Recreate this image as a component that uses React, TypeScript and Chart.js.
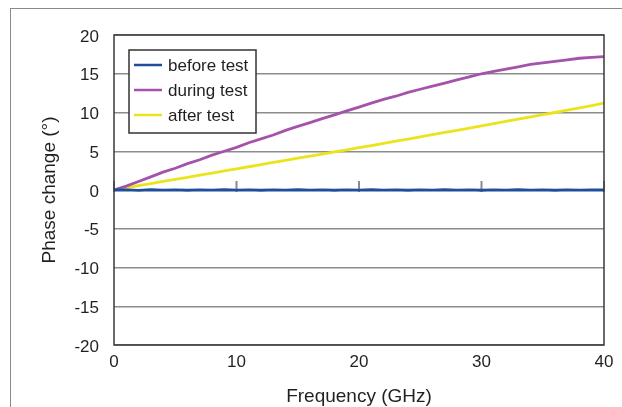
import React, { useEffect, useRef } from "react";
import { Chart, registerables } from "chart.js";

Chart.register(...registerables);

const freq = [
  0, 1, 2, 3, 4, 5, 6, 7, 8, 9, 10, 11, 12, 13, 14, 15, 16, 17, 18, 19, 20,
  21, 22, 23, 24, 25, 26, 27, 28, 29, 30, 31, 32, 33, 34, 35, 36, 37, 38, 39, 40,
];
const beforeTest = [
  0, 0.02, -0.04, 0.03, -0.02, 0.02, -0.03, 0.02, -0.02, 0.03, -0.02, 0.02,
  -0.03, 0.02, -0.02, 0.03, -0.02, 0.02, -0.03, 0.02, -0.02, 0.03, -0.02,
  0.02, -0.03, 0.02, -0.02, 0.03, -0.02, 0.02, -0.03, 0.02, -0.02, 0.03,
  -0.02, 0.02, -0.03, 0.02, -0.02, 0.02, 0.0,
];
const duringTest = [
  0, 0.5, 1.1, 1.7, 2.3, 2.8, 3.4, 3.9, 4.5, 5.0, 5.5, 6.1, 6.6, 7.1, 7.7,
  8.2, 8.7, 9.2, 9.7, 10.2, 10.7, 11.2, 11.7, 12.1, 12.6, 13.0, 13.4, 13.8,
  14.2, 14.6, 15.0, 15.3, 15.6, 15.9, 16.2, 16.4, 16.6, 16.8, 17.0, 17.1, 17.2,
];
const afterTest = [
  0, 0.27, 0.55, 0.82, 1.1, 1.37, 1.64, 1.92, 2.19, 2.46, 2.73, 3.0, 3.28,
  3.55, 3.82, 4.1, 4.37, 4.64, 4.92, 5.19, 5.46, 5.74, 6.02, 6.3, 6.58, 6.86,
  7.14, 7.42, 7.7, 7.98, 8.26, 8.55, 8.84, 9.13, 9.42, 9.71, 10.0, 10.3,
  10.6, 10.9, 11.2,
];
const seriesNames = ["before test", "during test", "after test"];
const seriesColors = ["#1f4f9c", "#a452aa", "#ece31c"];
const xTicks = [0, 10, 20, 30, 40];
const yTicks = [-20, -15, -10, -5, 0, 5, 10, 15, 20];

const FONT = "'Liberation Sans', Arial, Helvetica, sans-serif";
const TEXT = "#231f20";

const framePlugin = {
  id: "frameAndLegend",
  beforeDatasetsDraw(chart: any) {
    const { ctx } = chart;
    const xs = chart.scales.x;
    const ys = chart.scales.y;
    const y0 = ys.getPixelForValue(0);
    ctx.save();
    ctx.strokeStyle = "#8a8a8a";
    ctx.lineWidth = 2;
    xTicks.forEach((v) => {
      const x = xs.getPixelForValue(v);
      ctx.beginPath();
      ctx.moveTo(x, y0 - 9);
      ctx.lineTo(x, y0 + 2);
      ctx.stroke();
    });
    ctx.restore();
  },
  afterDatasetsDraw(chart: any) {
    const { ctx, chartArea } = chart;
    ctx.save();
    ctx.strokeStyle = "#3a3a3a";
    ctx.lineWidth = 1.5;
    ctx.strokeRect(
      chartArea.left,
      chartArea.top,
      chartArea.right - chartArea.left,
      chartArea.bottom - chartArea.top
    );
    const lx = chartArea.left + 15;
    const ly = chartArea.top + 15;
    ctx.fillStyle = "#ffffff";
    ctx.fillRect(lx, ly, 127, 83);
    ctx.strokeStyle = "#333333";
    ctx.lineWidth = 1.5;
    ctx.strokeRect(lx, ly, 127, 83);
    ctx.font = `17px ${FONT}`;
    ctx.textBaseline = "middle";
    ctx.textAlign = "left";
    seriesNames.forEach((name, i) => {
      const ry = ly + 15 + i * 25;
      ctx.strokeStyle = seriesColors[i];
      ctx.lineWidth = 2.5;
      ctx.beginPath();
      ctx.moveTo(lx + 5, ry);
      ctx.lineTo(lx + 33, ry);
      ctx.stroke();
      ctx.fillStyle = TEXT;
      ctx.fillText(name, lx + 39, ry + 1);
    });
    ctx.restore();
  },
};

export default function App() {
  const ref = useRef<HTMLCanvasElement | null>(null);

  useEffect(() => {
    if (!ref.current) return;
    const series = [beforeTest, duringTest, afterTest];
    const chart = new Chart(ref.current, {
      type: "line",
      data: {
        datasets: series.map((vals, i) => ({
          label: seriesNames[i],
          data: freq.map((f, j) => ({ x: f, y: vals[j] })),
          borderColor: seriesColors[i],
          backgroundColor: seriesColors[i],
          borderWidth: 2.8,
          pointRadius: 0,
          tension: 0,
        })),
      },
      options: {
        animation: false,
        responsive: false,
        layout: { padding: { left: 0, right: 18, top: 27, bottom: 0 } },
        plugins: { legend: { display: false }, tooltip: { enabled: false } },
        scales: {
          x: {
            type: "linear",
            min: 0,
            max: 40,
            afterBuildTicks: (scale: any) => {
              scale.ticks = xTicks.map((v) => ({ value: v }));
            },
            afterFit: (scale: any) => {
              scale.height = 62;
            },
            ticks: {
              font: { size: 17, family: FONT },
              color: TEXT,
              padding: 7,
              maxRotation: 0,
            },
            grid: { display: false, drawTicks: false },
            border: { display: false },
            title: {
              display: true,
              text: "Frequency (GHz)",
              font: { size: 19, family: FONT, lineHeight: 1 },
              color: TEXT,
              padding: { top: 0, bottom: 0.5 },
            },
          },
          y: {
            min: -20,
            max: 20,
            afterBuildTicks: (scale: any) => {
              scale.ticks = yTicks.map((v) => ({ value: v }));
            },
            afterFit: (scale: any) => {
              scale.width = 106;
            },
            ticks: {
              font: { size: 17, family: FONT },
              color: TEXT,
              padding: 15,
              labelOffset: 2,
            },
            grid: { color: "#8c8c8c", lineWidth: 1.5, drawTicks: false },
            border: { display: false },
            title: {
              display: true,
              text: "Phase change (°)",
              font: { size: 19, family: FONT, lineHeight: 1.2 },
              color: TEXT,
              padding: { top: 30.6, bottom: 0 },
            },
          },
        },
      },
      plugins: [framePlugin],
    });
    return () => chart.destroy();
  }, []);

  return (
    <div>
      <div
        style={{
          position: "fixed",
          left: 10,
          top: 8,
          width: 700,
          height: 500,
          border: "1px solid #8a8a8a",
          pointerEvents: "none",
        }}
      />
      <canvas
        ref={ref}
        width={614}
        height={399}
        style={{ display: "block", width: 614, height: 399 }}
      />
    </div>
  );
}
